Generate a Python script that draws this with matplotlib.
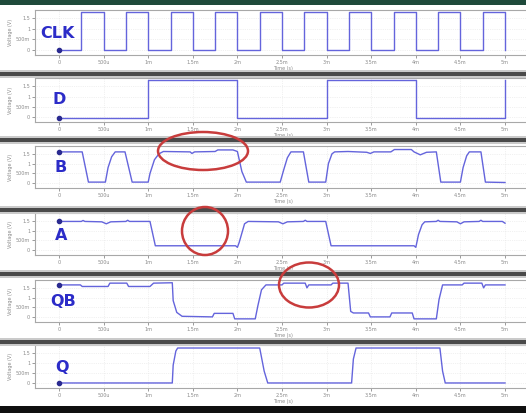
import matplotlib
matplotlib.use('Agg')
import matplotlib.pyplot as plt
from matplotlib.patches import Rectangle, Ellipse

# time in ms, level in V
clk_t = [0, 0.25, 0.5, 0.75, 1.0, 1.25, 1.5, 1.75, 2.0, 2.25, 2.5,
         2.75, 3.0, 3.25, 3.5, 3.75, 4.0, 4.25, 4.5, 4.75, 5.0]
clk_v = [0, 1.8, 0, 1.8, 0, 1.8, 0, 1.8, 0, 1.8, 0,
         1.8, 0, 1.8, 0, 1.8, 0, 1.8, 0, 1.8, 0]

d_t = [0, 1.0, 2.0, 3.0, 4.0, 5.0]
d_v = [-0.05, 1.78, -0.05, 1.78, -0.05, 1.78]

b_t = [0, 0.26, 0.33, 0.52, 0.55, 0.59, 0.63, 0.74, 0.82, 1.0, 1.02, 1.07, 1.12, 1.17,
       1.47, 1.49, 1.52, 1.75, 1.78, 1.95, 2.0, 2.05, 2.1, 2.48, 2.52, 2.56, 2.6, 2.74,
       2.8, 2.99, 3.02, 3.06, 3.09, 3.24, 3.45, 3.49, 3.53, 3.72, 3.76, 3.95, 3.98, 4.05,
       4.12, 4.23, 4.28, 4.5, 4.53, 4.57, 4.6, 4.73, 4.78, 5.0]
b_v = [1.6, 1.6, 0.06, 0.06, 0.8, 1.35, 1.6, 1.6, 0.06, 0.06, 0.5, 1.2, 1.5, 1.62,
       1.6, 1.52, 1.6, 1.62, 1.7, 1.7, 1.62, 0.6, 0.06, 0.06, 0.7, 1.3, 1.6, 1.6,
       0.06, 0.06, 1.0, 1.5, 1.6, 1.62, 1.58, 1.52, 1.6, 1.6, 1.72, 1.72, 1.6, 1.45,
       1.58, 1.6, 0.06, 0.06, 0.8, 1.4, 1.6, 1.6, 0.06, 0.04]

a_t = [0, 0.25, 0.27, 0.29, 0.48, 0.53, 0.58, 0.75, 0.77, 0.79, 1.02, 1.08, 1.98, 2.0,
       2.02, 2.08, 2.12, 2.46, 2.51, 2.56, 2.74, 2.76, 2.78, 2.99, 3.05, 3.98, 4.0, 4.03,
       4.07, 4.1, 4.23, 4.25, 4.27, 4.46, 4.5, 4.54, 4.71, 4.73, 4.75, 4.97, 5.0]
a_v = [1.47, 1.47, 1.52, 1.47, 1.45, 1.35, 1.45, 1.47, 1.53, 1.47, 1.47, 0.23, 0.23, 0.15,
       0.4, 1.35, 1.47, 1.45, 1.35, 1.45, 1.47, 1.53, 1.47, 1.47, 0.23, 0.23, 0.15, 0.8,
       1.3, 1.45, 1.47, 1.53, 1.47, 1.45, 1.35, 1.45, 1.47, 1.53, 1.47, 1.47, 1.38]

qb_t = [0, 0.24, 0.26, 0.55, 0.57, 0.76, 0.78, 1.02, 1.06, 1.27, 1.28, 1.32, 1.38,
        1.72, 1.74, 1.95, 1.97, 2.2, 2.23, 2.27, 2.32, 2.5, 2.52, 2.76, 2.78, 2.8,
        3.05, 3.07, 3.24, 3.27, 3.3, 3.47, 3.49, 3.71, 3.73, 3.96, 3.98, 4.23, 4.26,
        4.3, 4.52, 4.54, 4.74, 4.76, 4.78, 5.0]
qb_v = [1.65, 1.65, 1.57, 1.57, 1.74, 1.74, 1.57, 1.57, 1.74, 1.76, 0.85, 0.25, 0.05,
        0.02, 0.2, 0.2, -0.08, -0.08, 0.6, 1.4, 1.65, 1.65, 1.74, 1.74, 1.5, 1.65,
        1.65, 1.74, 1.74, 0.3, 0.22, 0.22, 0.02, 0.02, 0.22, 0.22, -0.08, -0.08, 0.9,
        1.65, 1.65, 1.74, 1.74, 1.5, 1.65, 1.65]

q_t = [0, 1.27, 1.28, 1.31, 1.33, 2.25, 2.3, 2.34, 3.28, 3.3, 3.33, 4.27, 4.3, 4.33, 5.0]
q_v = [0.01, 0.01, 0.9, 1.6, 1.75, 1.75, 0.6, 0.01, 0.01, 1.2, 1.75, 1.75, 0.6, 0.01, 0.01]

names = ['CLK', 'D', 'B', 'A', 'QB', 'Q']
xticks = [0, 0.5, 1.0, 1.5, 2.0, 2.5, 3.0, 3.5, 4.0, 4.5, 5.0]
xtick_labels = ['0', '500u', '1m', '1.5m', '2m', '2.5m', '3m', '3.5m', '4m', '4.5m', '5m']
yticks = [0, 0.5, 1.0, 1.5]
ytick_labels = ['0', '500m', '1', '1.5']

W, H = 526, 413
trace = '#6464dc'
lab_col = '#2c2cc8'

def box(x0, y0, x1, y1):
    # pixel box (from top-left) -> figure fraction rect
    return [x0 / W, 1 - y1 / H, (x1 - x0) / W, (y1 - y0) / H]

fig = plt.figure(figsize=(W / 100, H / 100), dpi=100)
fig.patch.set_facecolor('white')

signals = [(clk_t, clk_v, True), (d_t, d_v, True), (b_t, b_v, False),
           (a_t, a_v, False), (qb_t, qb_v, False), (q_t, q_v, False)]
tops = [10, 78, 146, 213, 280, 345]
bottoms = [55, 122, 188, 255, 322, 388]
lab_pos = [(40, 33), (52, 100), (55, 168), (55, 236), (50, 302), (55, 367)]

for i in range(6):
    t, v, step = signals[i]
    ax = fig.add_axes(box(35, tops[i], 530, bottoms[i]))
    if step:
        ax.plot(t, v, color=trace, lw=1.0, drawstyle='steps-post')
    else:
        ax.plot(t, v, color=trace, lw=1.0)
    ax.plot(t[0], v[0], 'o', color='#2a2a90', ms=3)
    ax.set_xlim(-0.269, 5.28)
    ax.set_ylim(-0.24, 1.9)
    ax.set_xticks(xticks)
    ax.set_xticklabels(xtick_labels)
    ax.set_yticks(yticks)
    ax.set_yticklabels(ytick_labels)
    ax.tick_params(labelsize=3.5, colors='#8a8a8a', length=2, width=0.6, pad=1.5)
    ax.grid(True, color='#e4e4e4', lw=0.5, ls=':')
    for s in ax.spines.values():
        s.set_color('#a8a8a8')
        s.set_linewidth(0.8)
    ax.set_xlabel('Time (s)', fontsize=3.5, color='#8a8a8a', labelpad=1)
    ax.set_ylabel('Voltage (V)', fontsize=3.5, color='#8a8a8a', labelpad=2)
    fig.text(lab_pos[i][0] / W, 1 - lab_pos[i][1] / H, names[i], color=lab_col,
             fontsize=11.5, fontweight='bold', ha='left', va='center')

# window borders between the captures
fig.add_artist(Rectangle(box(0, 0, W, 5)[:2], 1, 5 / H, transform=fig.transFigure,
                         color='#1f4a3b', lw=0))
for y0, y1 in [(72, 76), (138, 142), (208, 212), (272, 276), (340, 344)]:
    r = box(0, y0 - 2, W, y1 + 2)
    fig.add_artist(Rectangle(r[:2], r[2], r[3], transform=fig.transFigure,
                             color='#cacaca', lw=0))
    r = box(0, y0, W, y1)
    fig.add_artist(Rectangle(r[:2], r[2], r[3], transform=fig.transFigure,
                             color='#4a4a4a', lw=0))
r = box(0, 406, W, H)
fig.add_artist(Rectangle(r[:2], r[2], r[3], transform=fig.transFigure,
                         color='#101010', lw=0))

# red marks
for cx, cy, w, h in [(203, 151, 90, 38), (205, 231, 46, 48), (309, 285, 60, 45)]:
    fig.add_artist(Ellipse((cx / W, 1 - cy / H), w / W, h / H, transform=fig.transFigure,
                           fill=False, ec='#c83c3c', lw=1.8))

fig.savefig('out.png', dpi=100)
